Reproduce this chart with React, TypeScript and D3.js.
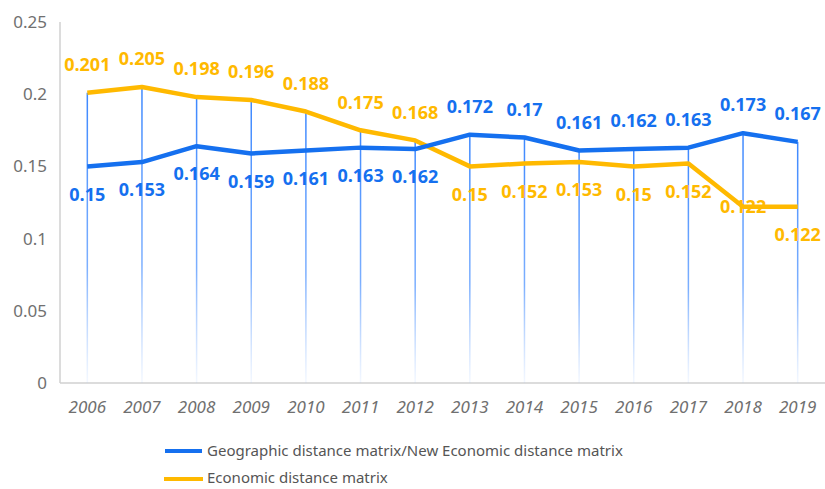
import React from "react";
import * as d3 from "d3";

const years = ["2006","2007","2008","2009","2010","2011","2012","2013","2014","2015","2016","2017","2018","2019"];
const geoValues = [0.15,0.153,0.164,0.159,0.161,0.163,0.162,0.172,0.17,0.161,0.162,0.163,0.173,0.167];
const econValues = [0.201,0.205,0.198,0.196,0.188,0.175,0.168,0.15,0.152,0.153,0.15,0.152,0.122,0.122];
const geoLabelPos = ["below","below","below","below","below","below","below","above","above","above","above","above","above","above"];
const econLabelPos = ["above","above","above","above","above","above","above","below","below","below","below","below","center","below"];
const yTicks = [0, 0.05, 0.1, 0.15, 0.2, 0.25];
const seriesNames = ["Geographic distance matrix/New Economic distance matrix", "Economic distance matrix"];

const W = 825, H = 489;
const BLUE = "#1570ef";
const ORANGE = "#ffb900";

export default function App() {
  const x = d3.scaleBand<string>().domain(years).range([60, 825]);
  const y = d3.scaleLinear().domain([0, 0.25]).range([383, 22]);
  const cx = (d: string) => (x(d) as number) + x.bandwidth() / 2;
  const line = d3.line<number>().x((_, i) => cx(years[i])).y((v) => y(v));
  const off = (p: string) => (p === "above" ? -28 : p === "below" ? 28 : 0);
  const labelFont = "'Open Sans', 'Noto Sans', sans-serif";

  return (
    <svg width={W} height={H} style={{ position: "absolute", left: 0, top: 0, background: "#fff" }}>
      <defs>
        {years.map((yr, i) => {
          const top = y(Math.max(geoValues[i], econValues[i]));
          return (
            <linearGradient key={yr} id={`drop${i}`} gradientUnits="userSpaceOnUse" x1={0} x2={0} y1={top} y2={y(0)}>
              <stop offset="0%" stopColor="#3d88ff" stopOpacity={1} />
              <stop offset="60%" stopColor="#5b9bff" stopOpacity={0.8} />
              <stop offset="100%" stopColor="#8fbaff" stopOpacity={0.1} />
            </linearGradient>
          );
        })}
      </defs>
      <line x1={60} x2={60} y1={y(0.25)} y2={y(0)} stroke="#d0d0d0" strokeWidth={1.5} />
      <line x1={60} x2={825} y1={y(0)} y2={y(0)} stroke="#d0d0d0" strokeWidth={1.5} />
      {yTicks.map((t) => (
        <text key={t} x={47} y={y(t)} dy="0.35em" textAnchor="end" fontSize={17}
          fontFamily="'Noto Sans', sans-serif" fill="#707070">{String(t)}</text>
      ))}
      {years.map((yr) => (
        <text key={yr} x={cx(yr)} y={407} dy="0.35em" textAnchor="middle" fontSize={17}
          fontStyle="italic" fontFamily="'Noto Sans', sans-serif" fill="#707070">{yr}</text>
      ))}
      {years.map((yr, i) => (
        <line key={yr} x1={cx(yr)} x2={cx(yr)} y1={y(Math.max(geoValues[i], econValues[i]))} y2={y(0)}
          stroke={`url(#drop${i})`} strokeWidth={1.5} />
      ))}
      <path d={line(econValues) || ""} fill="none" stroke={ORANGE} strokeWidth={4.5} strokeLinejoin="round" />
      <path d={line(geoValues) || ""} fill="none" stroke={BLUE} strokeWidth={4.5} strokeLinejoin="round" />
      {years.map((yr, i) => (
        <text key={"g" + yr} x={cx(yr)} y={y(geoValues[i]) + off(geoLabelPos[i])} dy="0.35em" textAnchor="middle"
          fontSize={18} fontWeight={700} fontFamily={labelFont} fill={BLUE}>{String(geoValues[i])}</text>
      ))}
      {years.map((yr, i) => (
        <text key={"e" + yr} x={cx(yr)} y={y(econValues[i]) + off(econLabelPos[i])} dy="0.35em" textAnchor="middle"
          fontSize={18} fontWeight={700} fontFamily={labelFont} fill={ORANGE}>{String(econValues[i])}</text>
      ))}
      <line x1={165} x2={202} y1={451} y2={451} stroke={BLUE} strokeWidth={4} />
      <text x={207} y={451} dy="0.35em" fontSize={15} fontFamily="'Noto Sans', sans-serif" fill="#555">{seriesNames[0]}</text>
      <line x1={164} x2={203} y1={479} y2={479} stroke={ORANGE} strokeWidth={4} />
      <text x={207} y={478} dy="0.35em" fontSize={15} fontFamily="'Noto Sans', sans-serif" fill="#555">{seriesNames[1]}</text>
    </svg>
  );
}
